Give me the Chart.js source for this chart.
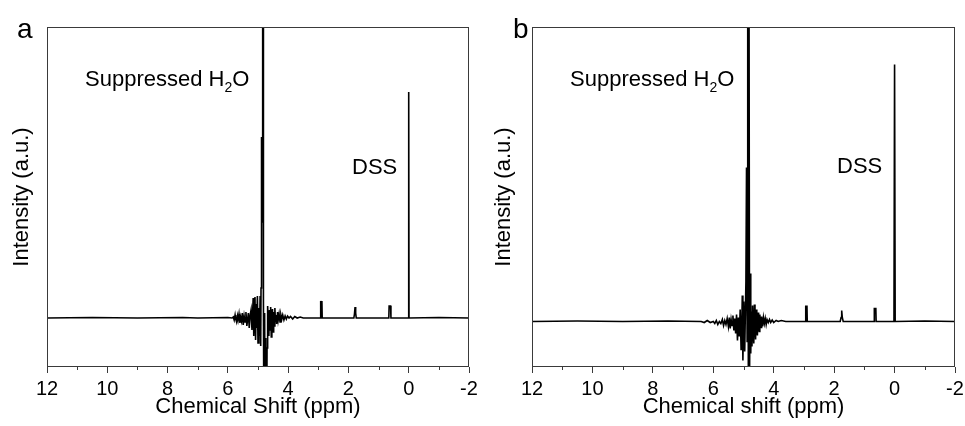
<!DOCTYPE html>
<html>
<head>
<meta charset="utf-8">
<script src="https://cdn.jsdelivr.net/npm/chart.js@4.4.0/dist/chart.umd.min.js"></script>
<style>
  body { margin: 0; background: #fff; }
  #wrap { position: relative; width: 965px; height: 426px; }
  canvas { position: absolute; top: 0; }
</style>
</head>
<body>
<div id="wrap">
  <canvas id="chartA" width="482" height="426" style="left:0"></canvas>
  <canvas id="chartB" width="483" height="426" style="left:482px"></canvas>
</div>
<script>
// x tick labels (ppm), major every 2
const ppmTicks = [12, 10, 8, 6, 4, 2, 0, -2];

// panel a spectrum: chemical shift (ppm) and intensity (a.u.)
const shiftA = [12.0, 10.5, 9.0, 7.5, 7.0, 6.0, 5.86, 5.82, 5.79, 5.76, 5.74, 5.71, 5.68, 5.66, 5.63, 5.60,
  5.58, 5.55, 5.52, 5.49, 5.46, 5.43, 5.40, 5.37, 5.35, 5.32, 5.29, 5.26, 5.23, 5.20, 5.18, 5.16,
  5.14, 5.12, 5.10, 5.08, 5.06, 5.04, 5.02, 5.00, 4.97, 4.95, 4.93, 4.91, 4.90, 4.89, 4.875, 4.86,
  4.85, 4.84, 4.83, 4.82, 4.80, 4.78, 4.76, 4.74, 4.72, 4.70, 4.68, 4.66, 4.64, 4.62, 4.60, 4.58,
  4.56, 4.54, 4.52, 4.50, 4.48, 4.46, 4.44, 4.42, 4.40, 4.38, 4.35, 4.33, 4.30, 4.27, 4.24, 4.21,
  4.18, 4.14, 4.10, 4.06, 4.02, 3.97, 3.92, 3.85, 3.78, 3.70, 3.60, 3.50,
  2.93, 2.92, 2.90, 2.88, 2.87, 1.82, 1.80, 1.78, 1.76, 1.74, 0.66, 0.65, 0.60, 0.59,
  0.01, 0.0, -0.01, -1.0, -2.0];
const intA = [0, 0.5, 0, 0.5, 0, 0.5, 0, 1, -2, 3, -1, -4, 2, -2, 4, -5,
  1, -3, 5, -7, 2, -4, 6, -8, -3, 5, -10, 3, 8, -12, 4, 20,
  -18, 6, 21, -22, 14, -10, 22, -25, 10, -18, 22, -28, 30, 40, 181, 96,
  400, 96, 400, 20, -150, 5, -150, -20, -150, -30, 12, -5, -18, 8, -12, 11,
  -19, 4, 9, -14, 6, -8, 10, -4, 3, -6, 6, -2, 4, -4, 3, -1,
  3, -2, 2, -1, 2, 0, 1.5, -1, 1.5, 0, 1, 0,
  0, 17, 14, 17, 0, 0, 4, 11, 5, 0, 0, 12, 12, 0,
  0, 226, 0, 0.5, 0];

// panel b spectrum
const shiftB = [12.0, 10.5, 9.0, 7.5, 6.4, 6.3, 6.2, 6.1, 6.0, 5.95, 5.90, 5.85, 5.80, 5.75, 5.70, 5.66,
  5.62, 5.58, 5.54, 5.50, 5.47, 5.44, 5.41, 5.38, 5.35, 5.32, 5.29, 5.26, 5.23, 5.20, 5.17, 5.14,
  5.11, 5.08, 5.06, 5.04, 5.02, 4.99, 4.96, 4.92, 4.90, 4.88, 4.86, 4.84, 4.82, 4.80, 4.78, 4.76,
  4.74, 4.72, 4.70, 4.68, 4.66, 4.64, 4.62, 4.60, 4.58, 4.56, 4.54, 4.52, 4.50, 4.48, 4.46, 4.44,
  4.42, 4.40, 4.37, 4.34, 4.31, 4.28, 4.25, 4.22, 4.18, 4.14, 4.10, 4.05, 4.00, 3.92, 3.85, 3.75, 3.60,
  2.95, 2.94, 2.92, 2.90, 2.89, 1.80, 1.77, 1.75, 1.73, 1.70, 0.68, 0.67, 0.62, 0.61,
  0.02, 0.0, -0.02, -1.0, -2.0];
const intB = [0, 0.5, 0, 0.5, 0, -1, 1, -1, 0, -2, 1, -3, 0, -2, 2, -4,
  1, -3, 3, -5, 4, -7, 2, -4, 6, -9, 3, -12, 7, -19, 4, -15,
  12, -28, -10, 26, -39, 20, -30, 40, 154, -20, 400, -45, 400, -60, 48, -32,
  10, -25, 16, -8, -22, 17, 2, -18, 12, -6, -14, 9, -4, -10, 7, -2,
  -6, 5, -5, 4, -2, 3, -3, 2, -1, 2, -1, 1.5, -1, 1, 0, 1, 0,
  0, 16, 12, 16, 0, 0, 4, 11, 4, 0, 0, 13, 13, 0,
  0, 257, 0, 0.5, 0];

// visible intensity window of each panel
const rangeA = [-49, 291];
const rangeB = [-45.5, 294.5];

const FONT = "'Liberation Sans', Arial, sans-serif";
const frameColor = '#3a3a3a';

function toPoints(xs, ys) {
  return xs.map((x, i) => ({ x: x, y: ys[i] }));
}

// frame, minor ticks and annotations
function decor(letter, letterX, labels) {
  return {
    id: 'decor' + letter,
    afterDraw(chart) {
      const { ctx, chartArea: a, scales } = chart;
      ctx.save();
      ctx.strokeStyle = frameColor;
      ctx.lineWidth = 1;
      ctx.strokeRect(a.left + 0.5, a.top + 0.5, a.right - a.left - 1, a.bottom - a.top - 1);
      // minor ticks at odd ppm
      ctx.beginPath();
      for (let v = -1; v <= 11; v += 2) {
        const px = Math.round(scales.x.getPixelForValue(v)) + 0.5;
        ctx.moveTo(px, a.bottom);
        ctx.lineTo(px, a.bottom + 3);
      }
      ctx.stroke();

      ctx.fillStyle = '#000';
      ctx.textBaseline = 'alphabetic';
      ctx.font = '28px ' + FONT;
      ctx.fillText(letter, letterX, 38);

      ctx.font = '22px ' + FONT;
      let x = labels.h2o[0];
      const y = labels.h2o[1];
      ctx.fillText('Suppressed H', x, y);
      x += ctx.measureText('Suppressed H').width;
      ctx.font = '14px ' + FONT;
      ctx.fillText('2', x, y + 6);
      x += ctx.measureText('2').width;
      ctx.font = '22px ' + FONT;
      ctx.fillText('O', x, y);
      ctx.fillText('DSS', labels.dss[0], labels.dss[1]);
      ctx.restore();
    }
  };
}

function makeChart(id, xs, ys, range, leftW, rightPad, xTitle, plugin) {
  return new Chart(document.getElementById(id), {
    type: 'scatter',
    data: {
      datasets: [{
        data: toPoints(xs, ys),
        showLine: true,
        borderColor: '#000',
        borderWidth: 1.6,
        pointRadius: 0,
        tension: 0
      }]
    },
    options: {
      responsive: false,
      animation: false,
      devicePixelRatio: 1,
      layout: { padding: { top: 27, right: rightPad, bottom: 0, left: 0 } },
      plugins: { legend: { display: false }, tooltip: { enabled: false } },
      scales: {
        x: {
          type: 'linear',
          reverse: true,
          min: -2,
          max: 12,
          afterBuildTicks(scale) {
            scale.ticks = ppmTicks.map(v => ({ value: v }));
          },
          afterFit(scale) {
            scale.height = 59;
            scale.paddingLeft = 0;
            scale.paddingRight = 0;
          },
          border: { display: false },
          grid: { drawOnChartArea: false, drawTicks: true, tickLength: 6, color: frameColor },
          ticks: {
            color: '#000',
            padding: 4,
            maxRotation: 0,
            font: { family: FONT, size: 20 },
            callback: v => String(v)
          },
          title: {
            display: true,
            text: xTitle,
            color: '#000',
            font: { family: FONT, size: 22 },
            padding: { top: 0, bottom: 6 }
          }
        },
        y: {
          min: range[0],
          max: range[1],
          afterFit(scale) { scale.width = leftW; },
          border: { display: false },
          grid: { display: false },
          ticks: { display: false },
          title: {
            display: true,
            text: 'Intensity (a.u.)',
            color: '#000',
            font: { family: FONT, size: 22 },
            padding: { top: 9, bottom: 0 }
          }
        }
      }
    },
    plugins: [plugin]
  });
}

makeChart('chartA', shiftA, intA, rangeA, 47, 13, 'Chemical Shift (ppm)',
  decor('a', 17, { h2o: [85, 86], dss: [352, 174] }));
makeChart('chartB', shiftB, intB, rangeB, 50, 10, 'Chemical shift (ppm)',
  decor('b', 31, { h2o: [88, 86], dss: [355, 173] }));
</script>
</body>
</html>
